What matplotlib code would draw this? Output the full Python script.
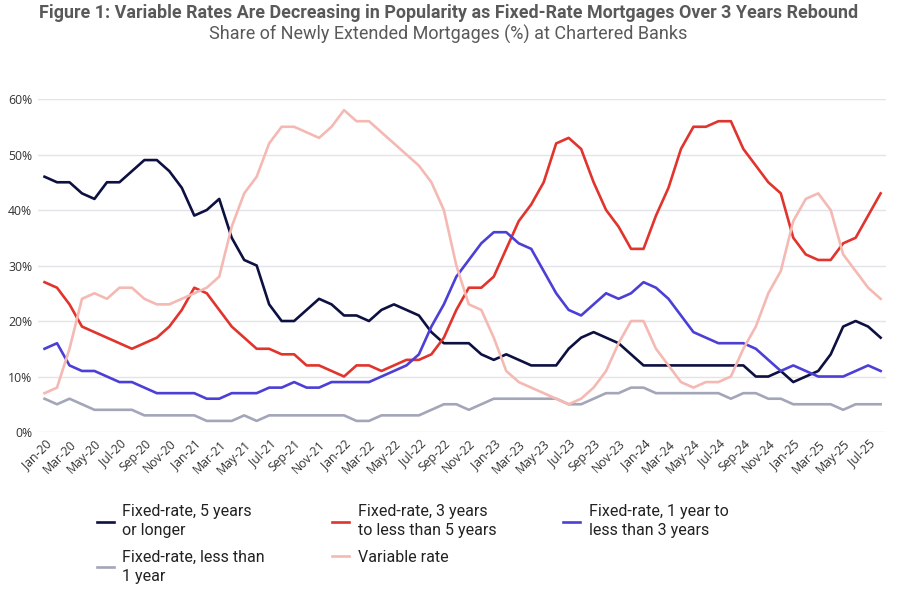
import matplotlib.pyplot as plt
import pandas as pd

plt.rcParams['font.family'] = ['Roboto', 'DejaVu Sans']

months = pd.date_range('2020-01-01', '2025-08-01', freq='MS')
labels = [m.strftime('%b-%y') for m in months]

fixed_5plus = [46, 45, 45, 43, 42, 45, 45, 47, 49, 49, 47, 44,
               39, 40, 42, 35, 31, 30, 23, 20, 20, 22, 24, 23,
               21, 21, 20, 22, 23, 22, 21, 18, 16, 16, 16, 14,
               13, 14, 13, 12, 12, 12, 15, 17, 18, 17, 16, 14,
               12, 12, 12, 12, 12, 12, 12, 12, 12, 10, 10, 11,
               9, 10, 11, 14, 19, 20, 19, 17]
fixed_3to5 = [27, 26, 23, 19, 18, 17, 16, 15, 16, 17, 19, 22,
              26, 25, 22, 19, 17, 15, 15, 14, 14, 12, 12, 11,
              10, 12, 12, 11, 12, 13, 13, 14, 17, 22, 26, 26,
              28, 33, 38, 41, 45, 52, 53, 51, 45, 40, 37, 33,
              33, 39, 44, 51, 55, 55, 56, 56, 51, 48, 45, 43,
              35, 32, 31, 31, 34, 35, 39, 43]
fixed_1to3 = [15, 16, 12, 11, 11, 10, 9, 9, 8, 7, 7, 7,
              7, 6, 6, 7, 7, 7, 8, 8, 9, 8, 8, 9,
              9, 9, 9, 10, 11, 12, 14, 19, 23, 28, 31, 34,
              36, 36, 34, 33, 29, 25, 22, 21, 23, 25, 24, 25,
              27, 26, 24, 21, 18, 17, 16, 16, 16, 15, 13, 11,
              12, 11, 10, 10, 10, 11, 12, 11]
fixed_lt1 = [6, 5, 6, 5, 4, 4, 4, 4, 3, 3, 3, 3,
             3, 2, 2, 2, 3, 2, 3, 3, 3, 3, 3, 3,
             3, 2, 2, 3, 3, 3, 3, 4, 5, 5, 4, 5,
             6, 6, 6, 6, 6, 6, 5, 5, 6, 7, 7, 8,
             8, 7, 7, 7, 7, 7, 7, 6, 7, 7, 6, 6,
             5, 5, 5, 5, 4, 5, 5, 5]
variable = [7, 8, 15, 24, 25, 24, 26, 26, 24, 23, 23, 24,
            25, 26, 28, 37, 43, 46, 52, 55, 55, 54, 53, 55,
            58, 56, 56, 54, 52, 50, 48, 45, 40, 30, 23, 22,
            17, 11, 9, 8, 7, 6, 5, 6, 8, 11, 16, 20,
            20, 15, 12, 9, 8, 9, 9, 10, 15, 19, 25, 29,
            38, 42, 43, 40, 32, 29, 26, 24]

series = [
    ('Fixed-rate, 5 years\nor longer', fixed_5plus, '#0d1040'),
    ('Fixed-rate, 3 years\nto less than 5 years', fixed_3to5, '#e0342c'),
    ('Fixed-rate, 1 year to\nless than 3 years', fixed_1to3, '#4b3fd6'),
    ('Fixed-rate, less than\n1 year', fixed_lt1, '#a3a6b8'),
    ('Variable rate', variable, '#f5b9b4'),
]

fig = plt.figure(figsize=(8.97, 5.94), dpi=100)
ax = fig.add_axes([0.042, 0.2727, 0.946, 0.5606])

x = list(range(len(months)))
handles = []
for name, vals, col in series:
    ln, = ax.plot(x, vals, color=col, lw=1.9, label=name, zorder=3)
    handles.append(ln)

ax.set_ylim(0, 60)
ax.set_xlim(-0.55, len(months) - 0.55)
ax.set_yticks(range(0, 61, 10))
ax.set_yticklabels([f'{v}%' for v in range(0, 61, 10)], fontsize=8.8,
                   color='#333333', family=['Open Sans', 'DejaVu Sans'])
ax.set_xticks(x[::2])
ax.set_xticklabels(labels[::2], rotation=45, ha='right', rotation_mode='anchor',
                   fontsize=8.8, color='#333333', family=['Open Sans', 'DejaVu Sans'])
ax.tick_params(length=0, pad=4)
ax.grid(axis='y', color='#e3e3ea', lw=1)
for s in ax.spines.values():
    s.set_visible(False)

fig.text(0.5, 0.993, 'Figure 1: Variable Rates Are Decreasing in Popularity as Fixed-Rate Mortgages Over 3 Years Rebound',
         ha='center', va='top', fontsize=12.9, fontweight='bold', color='#595959')
fig.text(0.5, 0.958, 'Share of Newly Extended Mortgages (%) at Chartered Banks',
         ha='center', va='top', fontsize=13, color='#595959')

order = [0, 3, 1, 4, 2]
leg = fig.legend([handles[i] for i in order], [series[i][0] for i in order],
                 ncol=3, loc='upper left', bbox_to_anchor=(0.092, 0.175),
                 frameon=False, handlelength=1.05, handletextpad=0.55,
                 columnspacing=4.2, labelspacing=0.75,
                 prop={'family': ['Roboto', 'DejaVu Sans'], 'size': 11.5})
for t in leg.get_texts():
    t.set_color('#222222')
    t.set_linespacing(1.3)

fig.savefig('out.png', dpi=100)
